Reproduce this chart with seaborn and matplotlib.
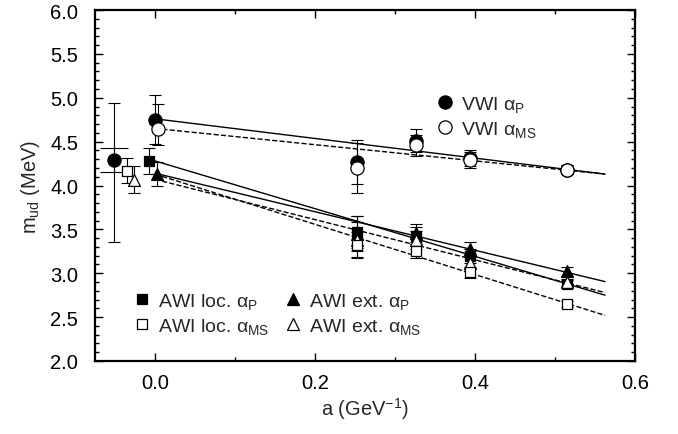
import numpy as np
import pandas as pd
import matplotlib
matplotlib.use("Agg")
import matplotlib.pyplot as plt
from matplotlib.lines import Line2D
from matplotlib.ticker import MultipleLocator, FormatStrFormatter
import seaborn as sns

# ---------------- data ----------------
a_lat = [0.252, 0.326, 0.394, 0.515]

vwi_p = [4.27, 4.51, 4.31, 4.18]
vwi_p_err = [0.25, 0.13, 0.09, 0.05]
vwi_ms = [4.20, 4.46, 4.29, 4.18]
vwi_ms_err = [0.28, 0.12, 0.09, 0.05]

awi_loc_p = [3.47, 3.43, 3.20, 2.88]
awi_loc_p_err = [0.18, 0.10, 0.08, 0.04]
awi_ext_p = [3.45, 3.46, 3.28, 3.02]
awi_ext_p_err = [0.20, 0.10, 0.08, 0.05]
awi_loc_ms = [3.32, 3.25, 3.01, 2.65]
awi_loc_ms_err = [0.15, 0.08, 0.06, 0.03]
awi_ext_ms = [3.38, 3.38, 3.12, 2.90]
awi_ext_ms_err = [0.20, 0.10, 0.07, 0.04]

# continuum-limit points (plotted slightly offset in a)
cont_x = {"vwi_p": 0.0, "vwi_ms": 0.004, "awi_loc_p": -0.007, "awi_ext_p": 0.003,
          "awi_loc_ms": -0.035, "awi_ext_ms": -0.026, "final": -0.051}
cont_y = {"vwi_p": 4.75, "vwi_ms": 4.64, "awi_loc_p": 4.28, "awi_ext_p": 4.13,
          "awi_loc_ms": 4.17, "awi_ext_ms": 4.06, "final": 4.29}
cont_lo = {"vwi_p": 0.28, "vwi_ms": 0.18, "awi_loc_p": 0.15, "awi_ext_p": 0.14,
           "awi_loc_ms": 0.14, "awi_ext_ms": 0.14, "final": 0.93}
cont_hi = {"vwi_p": 0.28, "vwi_ms": 0.29, "awi_loc_p": 0.15, "awi_ext_p": 0.14,
           "awi_loc_ms": 0.14, "awi_ext_ms": 0.16, "final": 0.65}
final_stat_err = 0.135

# linear fit lines: value at a=0 and at a=0.5625
fit_a = [0.0, 0.5625]
fit_vwi_p = [4.76, 4.13]
fit_vwi_ms = [4.65, 4.13]
fit_awi_loc_p = [4.28, 2.75]
fit_awi_ext_p = [4.14, 2.905]
fit_awi_loc_ms = [4.13, 2.52]
fit_awi_ext_ms = [4.07, 2.78]

# ---------------- figure ----------------
sns.set_style("ticks")
plt.rcParams["font.family"] = ["Liberation Sans", "DejaVu Sans"]
plt.rcParams["mathtext.fontset"] = "custom"
plt.rcParams["mathtext.rm"] = "Liberation Sans"
plt.rcParams["mathtext.it"] = "Liberation Sans"

fig = plt.figure(figsize=(6.78, 4.35), dpi=100)
ax = fig.add_axes([95 / 678, 73 / 435, 540 / 678, 351 / 435])

# fit lines
fits = [(fit_vwi_p, "-"), (fit_vwi_ms, "--"), (fit_awi_loc_p, "-"), (fit_awi_ext_p, "-"),
        (fit_awi_loc_ms, "--"), (fit_awi_ext_ms, "--")]
for yv, ls in fits:
    sns.lineplot(x=fit_a, y=yv, ax=ax, color="black", lw=1.0, linestyle=ls, zorder=2)

series = [
    ("vwi_p", vwi_p, vwi_p_err, "o", "black", 9.5),
    ("vwi_ms", vwi_ms, vwi_ms_err, "o", "white", 9.5),
    ("awi_ext_p", awi_ext_p, awi_ext_p_err, "^", "black", 8.5),
    ("awi_loc_p", awi_loc_p, awi_loc_p_err, "s", "black", 7.5),
    ("awi_ext_ms", awi_ext_ms, awi_ext_ms_err, "^", "white", 8.5),
    ("awi_loc_ms", awi_loc_ms, awi_loc_ms_err, "s", "white", 7.5),
]

err_kw = dict(fmt="none", ecolor="black", elinewidth=0.8, capsize=4.5, capthick=0.8, zorder=3)
for key, yv, ye, mk, fc, ms in series:
    ax.errorbar(a_lat, yv, yerr=ye, **err_kw)
    ax.errorbar([cont_x[key]], [cont_y[key]],
                yerr=[[cont_lo[key]], [cont_hi[key]]], **err_kw)
ax.errorbar([cont_x["final"]], [cont_y["final"]],
            yerr=[[cont_lo["final"]], [cont_hi["final"]]], **err_kw)
ax.errorbar([cont_x["final"]], [cont_y["final"]], yerr=final_stat_err,
            fmt="none", ecolor="black", elinewidth=0.8, capsize=10, capthick=0.8, zorder=3)

# markers
for key, yv, ye, mk, fc, ms in series:
    df = pd.DataFrame({"a": a_lat + [cont_x[key]], "m": yv + [cont_y[key]]})
    sns.scatterplot(data=df, x="a", y="m", ax=ax, marker=mk, s=ms ** 2,
                    color=fc, edgecolor="black", linewidth=0.9, zorder=4)
sns.scatterplot(x=[cont_x["final"]], y=[cont_y["final"]], ax=ax, marker="o", s=9.5 ** 2,
                color="black", edgecolor="black", linewidth=0.9, zorder=4)

# axes
ax.set_xlim(-0.075, 0.6)
ax.set_ylim(2.0, 6.0)
ax.xaxis.set_major_locator(MultipleLocator(0.2))
ax.xaxis.set_minor_locator(MultipleLocator(0.1))
ax.yaxis.set_major_locator(MultipleLocator(0.5))
ax.yaxis.set_minor_locator(MultipleLocator(0.1))
ax.xaxis.set_major_formatter(FormatStrFormatter("%.1f"))
ax.yaxis.set_major_formatter(FormatStrFormatter("%.1f"))
ax.tick_params(which="both", direction="in", top=True, right=True, labelsize=14.5,
               width=1.0, colors="black")
ax.tick_params(which="major", length=6)
ax.tick_params(axis="y", which="major", pad=12)
ax.tick_params(axis="x", which="major", pad=9)
ax.tick_params(which="minor", length=3)
for sp in ax.spines.values():
    sp.set_visible(True)
    sp.set_linewidth(1.6)
    sp.set_color("black")

ax.set_xlabel("a (GeV$^{-1}$)", fontsize=14.5, labelpad=2)
ax.set_ylabel("m$_{\\mathrm{ud}}$ (MeV)", fontsize=14.5, labelpad=6)

# legends
def h(mk, fc, ms):
    return Line2D([], [], linestyle="none", marker=mk, markersize=ms,
                  markerfacecolor=fc, markeredgecolor="black", markeredgewidth=0.9)

leg1 = ax.legend([h("o", "black", 9.5), h("o", "white", 9.5)],
                 ["VWI α$_{\\mathrm{P}}$", "VWI α$_{\\mathrm{MS}}$"],
                 loc="upper left", bbox_to_anchor=(0.622, 0.76), frameon=False,
                 fontsize=14, handletextpad=0.05, labelspacing=0.25, handlelength=1.5,
                 borderaxespad=0, borderpad=0)
ax.add_artist(leg1)
leg2 = ax.legend([h("s", "black", 7.5), h("s", "white", 7.5), h("^", "black", 8.5), h("^", "white", 8.5)],
                 ["AWI loc. α$_{\\mathrm{P}}$", "AWI loc. α$_{\\mathrm{MS}}$",
                  "AWI ext. α$_{\\mathrm{P}}$", "AWI ext. α$_{\\mathrm{MS}}$"],
                 ncol=2, loc="upper left", bbox_to_anchor=(0.06, 0.199), frameon=False,
                 fontsize=14, handletextpad=0.05, labelspacing=0.25, handlelength=1.5,
                 columnspacing=0.5, borderaxespad=0, borderpad=0)

fig.savefig("out.png", dpi=100)
